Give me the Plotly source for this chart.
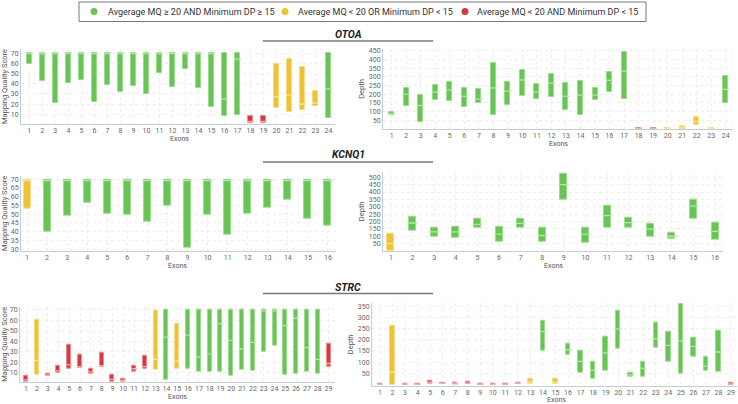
import plotly.graph_objects as go

# ---------------- data ----------------
otoa_exons = list(range(1, 25))
otoa_status = ["g"] * 17 + ["r", "r"] + ["y"] * 4 + ["g"]
otoa_mq_min = [59, 43, 21, 41, 44, 22, 39, 32, 38, 30, 50, 37, 54, 36, 17, 8, 9, 1, 1, 16, 12, 14, 18, 6]
otoa_mq_max = [70, 70, 70, 70, 70, 70, 70, 70, 70, 70, 70, 70, 70, 70, 70, 70, 70, 8, 8, 59, 64, 56, 33, 70]
otoa_mq_med = [69.5, 69.5, 69.5, 69.5, 69.5, 69.5, 69.5, 69.5, 69.5, 69.5, 69.5, 69.5, 69.5, 69.5, 69.5, 25, 64, 3, 3, 27, 29, 20, 21, 35]
otoa_dp_min = [80, 135, 42, 165, 162, 128, 148, 78, 140, 188, 173, 183, 112, 78, 165, 210, 173, 0, 0, 0, 2, 22, 0, 152]
otoa_dp_max = [97, 238, 197, 252, 268, 238, 228, 378, 272, 342, 258, 314, 265, 278, 235, 326, 445, 5, 5, 8, 18, 70, 5, 307]
otoa_dp_med = [88, 200, 135, 212, 224, 188, 172, 236, 218, 282, 213, 264, 188, 195, 195, 280, 333, 2, 2, 4, 10, 43, 2, 228]

kcnq1_exons = list(range(1, 17))
kcnq1_status = ["y"] + ["g"] * 15
kcnq1_mq_min = [53, 40, 49, 56.5, 50.5, 50, 46, 55, 31, 49.5, 38.5, 50.5, 53.5, 58.5, 47.5, 43.5]
kcnq1_mq_max = [70] * 16
kcnq1_mq_med = [69.2] * 16
kcnq1_dp_min = [0, 135, 100, 90, 157, 60, 158, 60, 350, 55, 158, 155, 98, 85, 222, 80]
kcnq1_dp_max = [115, 230, 158, 167, 218, 163, 220, 160, 525, 158, 310, 228, 183, 123, 345, 195]
kcnq1_dp_med = [50, 190, 130, 130, 180, 115, 188, 105, 450, 115, 240, 193, 148, 100, 305, 133]

strc_exons = list(range(1, 30))
strc_status = ["r", "y"] + ["r"] * 10 + ["y", "g", "y"] + ["g"] * 13 + ["r"]
strc_mq_min = [2, 8, 7, 10, 14, 15, 9, 16, 2, 1.5, 11, 14, 13, 4, 14, 14, 11, 11, 11, 7, 13, 12, 30, 35.5, 8, 9, 11, 9, 16]
strc_mq_max = [7.5, 61, 9, 17, 37, 27, 14, 29, 8, 5, 17, 26, 69, 70, 57, 70, 70, 70, 70, 70, 70, 70, 70, 70, 70, 70, 70, 70, 38]
strc_mq_med = [3.5, 22, 8, 12, 18, 16, 11, 17, 4, 3, 14, 16, 23, 44, 21, 46, 25, 28, 57, 41, 33, 39, 69, 69, 55, 62, 34, 23, 19]
strc_dp_min = [0, 0, 0, 0, 5, 3, 2, 2, 0, 0, 0, 2, 5, 153, 5, 131, 53, 27, 60, 162, 35, 34, 165, 102, 49, 126, 62, 56, 0]
strc_dp_max = [5, 261, 4, 5, 16, 10, 6, 12, 4, 4, 5, 10, 25, 286, 25, 181, 150, 104, 212, 331, 52, 100, 275, 237, 360, 208, 125, 238, 8]
strc_dp_med = [2, 55, 2, 2, 10, 6, 3, 6, 2, 2, 2, 6, 12, 236, 12, 155, 103, 63, 141, 248, 43, 72, 205, 175, 195, 170, 82, 145, 3]

mq_ticks_full = [10, 20, 30, 40, 50, 60, 70]
mq_ticks_kcnq1 = [30, 35, 40, 45, 50, 55, 60, 65, 70]
dp_ticks_otoa = [50, 100, 150, 200, 250, 300, 350, 400, 450]
dp_ticks_kcnq1 = [50, 100, 150, 200, 250, 300, 350, 400, 450, 500]
dp_ticks_strc = [50, 100, 150, 200, 250, 300, 350]

legend_labels = {
    "g": "Avgerage MQ \u2265 20 AND Minimum DP \u2265 15",
    "y": "Average MQ < 20 OR Minimum DP < 15",
    "r": "Average MQ < 20 AND Minimum DP < 15",
}

# ---------------- styling ----------------
FILL = {"g": "#67c455", "y": "#efc234", "r": "#d8383e"}
EDGE = {"g": "#9ddc8f", "y": "#f6da85", "r": "#e98a8d"}
MED = {"g": "#b3e6a7", "y": "#f8e5a8", "r": "#f0aeb0"}
W, H = 738, 404
FONT = "Roboto"

fig = go.Figure()

def xd(a, b):
    return [a / W, b / W]

def yd(top, bottom):
    return [1 - bottom / H, 1 - top / H]

panels = [
    # (axis idx, exons, status, mins, maxs, meds, xdom, xrange, ydom, yrange, yticks, ytitle, bar px, x-title pos px)
    (1, otoa_exons, otoa_status, otoa_mq_min, otoa_mq_max, otoa_mq_med, xd(21, 335), [0.36, 24.5], yd(49, 124), [0.5, 74], mq_ticks_full, "Mapping Quality Score", 5, (179, 139)),
    (2, otoa_exons, otoa_status, otoa_dp_min, otoa_dp_max, otoa_dp_med, xd(383, 733), [0.4, 24.5], yd(49, 129), [0, 460], dp_ticks_otoa, "Depth", 5, (558, 144)),
    (3, kcnq1_exons, kcnq1_status, kcnq1_mq_min, kcnq1_mq_max, kcnq1_mq_med, xd(21, 336), [0.7, 16.4], yd(175.7, 251), [29, 72], mq_ticks_kcnq1, "Mapping Quality Score", 7, (177, 265.5)),
    (4, kcnq1_exons, kcnq1_status, kcnq1_dp_min, kcnq1_dp_max, kcnq1_dp_med, xd(383, 723), [0.63, 16.37], yd(171.7, 251), [0, 538], dp_ticks_kcnq1, "Depth", 7, (553, 265.5)),
    (5, strc_exons, strc_status, strc_mq_min, strc_mq_max, strc_mq_med, xd(20, 335), [0.44, 29.6], yd(306.7, 381.7), [1.7, 73], mq_ticks_full, "Mapping Quality Score", 4, (177, 397)),
    (6, strc_exons, strc_status, strc_dp_min, strc_dp_max, strc_dp_med, xd(372, 737), [0.36, 29.48], yd(302.7, 386), [-6.6, 365], dp_ticks_strc, "Depth", 4.5, (556, 400)),
]

for idx, ex, st, mn, mx, md, xdom, xr, ydom, yr, ytv, yt, bpx, xtp in panels:
    xa = "x" if idx == 1 else f"x{idx}"
    ya = "y" if idx == 1 else f"y{idx}"
    span_px = (xdom[1] - xdom[0]) * W
    unit_px = span_px / (xr[1] - xr[0])
    wfrac = bpx / unit_px
    fig.add_trace(go.Bar(
        x=ex, y=[b - a for a, b in zip(mn, mx)], base=mn,
        width=wfrac,
        marker=dict(color=[FILL[s] for s in st], line=dict(color=[EDGE[s] for s in st], width=1)),
        xaxis=xa, yaxis=ya, showlegend=False, hoverinfo="skip",
    ))
    fig.add_trace(go.Scatter(
        x=ex, y=md, mode="markers",
        marker=dict(symbol="line-ew", size=bpx, line=dict(color=[MED[s] for s in st], width=1.3)),
        xaxis=xa, yaxis=ya, showlegend=False, hoverinfo="skip",
    ))
    axis_common = dict(showline=True, linecolor="#c8ccd4", linewidth=1,
                       gridcolor="#eeeeee", griddash="dot", zeroline=False,
                       tickfont=dict(size=7, color="#666", family=FONT),
                       ticks="", automargin=False, tickmode="array")
    fig.layout[("xaxis" if idx == 1 else f"xaxis{idx}")] = dict(
        domain=xdom, anchor=ya, range=xr, tickvals=ex, **axis_common)
    fig.layout[("yaxis" if idx == 1 else f"yaxis{idx}")] = dict(
        domain=ydom, anchor=xa, range=yr, tickvals=ytv,
        title=dict(text=yt, font=dict(size=7.5, color="#555", family=FONT), standoff=3),
        **axis_common)
    # x-axis title
    fig.add_annotation(text="Exons", x=xtp[0] / W, y=1 - xtp[1] / H, xref="paper", yref="paper",
                       xanchor="center", yanchor="middle", showarrow=False,
                       font=dict(size=7, color="#555", family=FONT))

# ---------------- legend (drawn as shapes + text) ----------------
fig.add_shape(type="rect", xref="paper", yref="paper", x0=79 / W, x1=646 / W,
              y0=1 - 21.5 / H, y1=1 - 2 / H, line=dict(color="#777", width=1), fillcolor="white")
legend_pos = {"g": (94, 106), "y": (285, 296), "r": (465, 475)}
for k in ["g", "y", "r"]:
    dx, tx = legend_pos[k]
    cy = 11.5
    fig.add_shape(type="circle", xref="paper", yref="paper",
                  x0=(dx - 3.5) / W, x1=(dx + 3.5) / W, y0=1 - (cy + 3.5) / H, y1=1 - (cy - 3.5) / H,
                  fillcolor=FILL[k], line=dict(width=0))
    fig.add_annotation(text=legend_labels[k], x=tx / W, y=1 - cy / H, xref="paper", yref="paper",
                       xanchor="left", yanchor="middle", showarrow=False,
                       font=dict(size=9, color="#333", family=FONT))

# ---------------- gene titles with underline ----------------
titles = [("OTOA", 34.7, 41), ("KCNQ1", 154.7, 162), ("STRC", 287, 293.5)]
for t, ty, ly in titles:
    fig.add_annotation(text=f"<b><i>{t}</i></b>", x=348 / W, y=1 - ty / H, xref="paper", yref="paper",
                       showarrow=False, font=dict(size=10.5, color="#222", family=FONT),
                       xanchor="center", yanchor="middle")
    fig.add_shape(type="line", xref="paper", yref="paper", x0=263 / W, x1=433 / W,
                  y0=1 - ly / H, y1=1 - ly / H, line=dict(color="#777", width=1.5))

fig.update_layout(
    width=W, height=H, autosize=False,
    margin=dict(l=0, r=0, t=0, b=0),
    paper_bgcolor="white", plot_bgcolor="white",
    font=dict(family=FONT),
    showlegend=False,
    bargap=0,
)

fig.write_html("out.html", config={"displayModeBar": False},
               post_script="document.body.style.margin='0';document.body.style.overflow='hidden';")
